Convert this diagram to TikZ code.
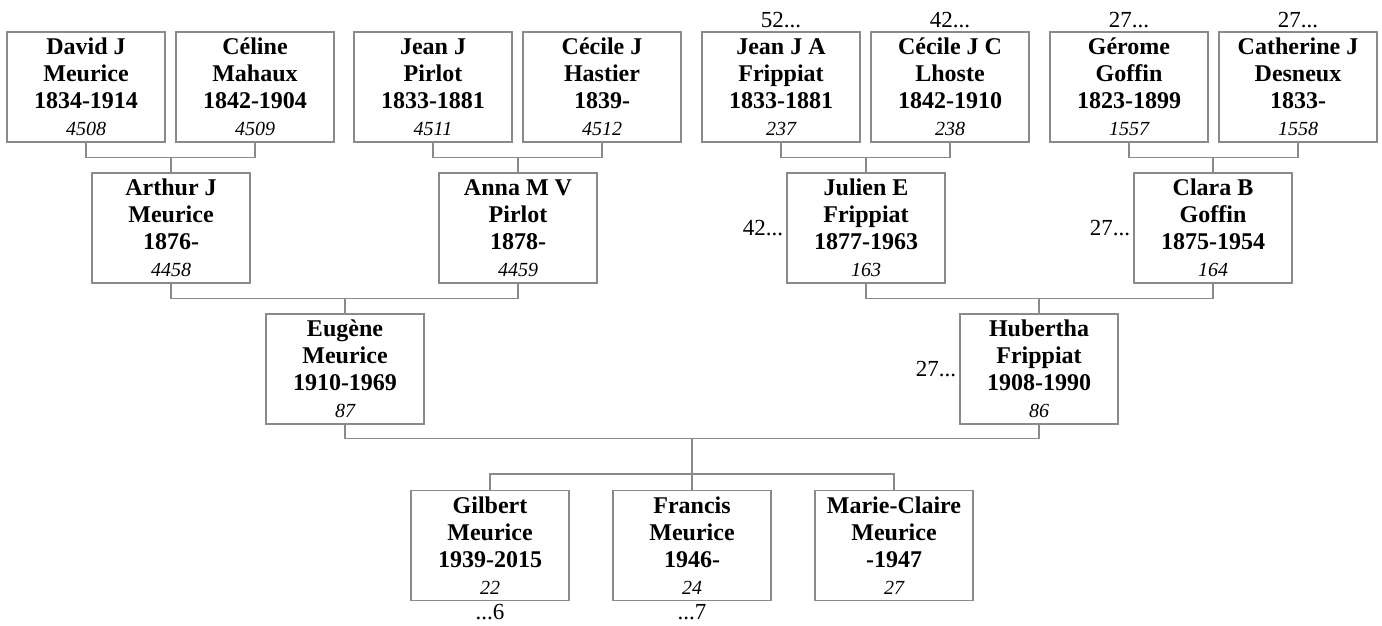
\documentclass[tikz,border=0pt]{standalone}
\usepackage{fontspec}
\setmainfont{Liberation Serif}
\usepackage{xcolor}
\usetikzlibrary{calc}
\definecolor{ink}{HTML}{000000}
\definecolor{frame}{HTML}{8A8A8A}
\tikzset{
  person/.style={draw=frame,line width=1.2pt,fill=white,minimum width=158pt,minimum height=110pt,
    inner sep=0pt,align=center,text=ink,font=\fontsize{24}{27}\selectfont\bfseries},
  link/.style={draw=frame,line width=1.2pt},
  more/.style={font=\fontsize{23}{25}\selectfont,inner sep=3pt,text=ink},
}
\newcommand{\refno}[1]{{\fontsize{20}{22}\selectfont\mdseries\itshape #1}}

\begin{document}
\begin{tikzpicture}[x=1pt,y=-1pt]
  \useasboundingbox (0,0) rectangle (1382,626);

  % great-grandparents
  \node[person] (david)    at (86,87)   {David J\\Meurice\\1834-1914\\\refno{4508}};
  \node[person] (celine)   at (255,87)  {Céline\\Mahaux\\1842-1904\\\refno{4509}};
  \node[person] (jeanp)    at (433,87)  {Jean J\\Pirlot\\1833-1881\\\refno{4511}};
  \node[person] (cecileh)  at (602,87)  {Cécile J\\Hastier\\1839-\\\refno{4512}};
  \node[person] (jeanf)    at (781,87)  {Jean J A\\Frippiat\\1833-1881\\\refno{237}};
  \node[person] (cecilel)  at (950,87)  {Cécile J C\\Lhoste\\1842-1910\\\refno{238}};
  \node[person] (gerome)   at (1129,87) {Gérome\\Goffin\\1823-1899\\\refno{1557}};
  \node[person] (catherine) at (1298,87) {Catherine J\\Desneux\\1833-\\\refno{1558}};

  % grandparents
  \node[person] (arthur)   at (171,228)  {Arthur J\\Meurice\\1876-\\\refno{4458}};
  \node[person] (anna)     at (518,228)  {Anna M V\\Pirlot\\1878-\\\refno{4459}};
  \node[person] (julien)   at (866,228)  {Julien E\\Frippiat\\1877-1963\\\refno{163}};
  \node[person] (clara)    at (1213,228) {Clara B\\Goffin\\1875-1954\\\refno{164}};

  % parents
  \node[person] (eugene)   at (345,369)  {Eugène\\Meurice\\1910-1969\\\refno{87}};
  \node[person] (hubertha) at (1039,369) {Hubertha\\Frippiat\\1908-1990\\\refno{86}};

  % children
  \node[person] (gilbert)  at (490,545.5) {Gilbert\\Meurice\\1939-2015\\\refno{22}};
  \node[person] (francis)  at (692,545.5) {Francis\\Meurice\\1946-\\\refno{24}};
  \node[person] (marie)    at (894,545.5) {Marie-Claire\\Meurice\\-1947\\\refno{27}};

  % links
  \draw[link] (david.south) -- ++(0,15) coordinate (j1) -| (celine.south);
  \draw[link] (arthur.north) -- (arthur |- j1);
  \draw[link] (jeanp.south) -- ++(0,15) coordinate (j2) -| (cecileh.south);
  \draw[link] (anna.north) -- (anna |- j2);
  \draw[link] (jeanf.south) -- ++(0,15) coordinate (j3) -| (cecilel.south);
  \draw[link] (julien.north) -- (julien |- j3);
  \draw[link] (gerome.south) -- ++(0,15) coordinate (j4) -| (catherine.south);
  \draw[link] (clara.north) -- (clara |- j4);

  \draw[link] (arthur.south) -- ++(0,15) coordinate (j5) -| (anna.south);
  \draw[link] (eugene.north) -- (eugene |- j5);
  \draw[link] (julien.south) -- ++(0,15) coordinate (j6) -| (clara.south);
  \draw[link] (hubertha.north) -- (hubertha |- j6);

  \draw[link] (eugene.south) -- ++(0,14) coordinate (j7) -| (hubertha.south);
  \draw[link] (gilbert.north) -- ++(0,-16) coordinate (k7) -| (marie.north);
  \draw[link] (francis.north) -- (francis |- j7);

  % continuation marks
  \node[more,anchor=south] (m1) at (jeanf.north)     {52...};
  \node[more,anchor=south] (m2) at (cecilel.north)   {42...};
  \node[more,anchor=south] (m3) at (gerome.north)    {27...};
  \node[more,anchor=south] (m4) at (catherine.north) {27...};
  \node[more,anchor=east]  (m5) at (julien.west)     {42...};
  \node[more,anchor=east]  (m6) at (clara.west)      {27...};
  \node[more,anchor=east]  (m7) at (hubertha.west)   {27...};
  \node[more,anchor=north] (m8) at (gilbert.south)   {...6};
  \node[more,anchor=north] (m9) at (francis.south)   {...7};
\end{tikzpicture}
\end{document}
